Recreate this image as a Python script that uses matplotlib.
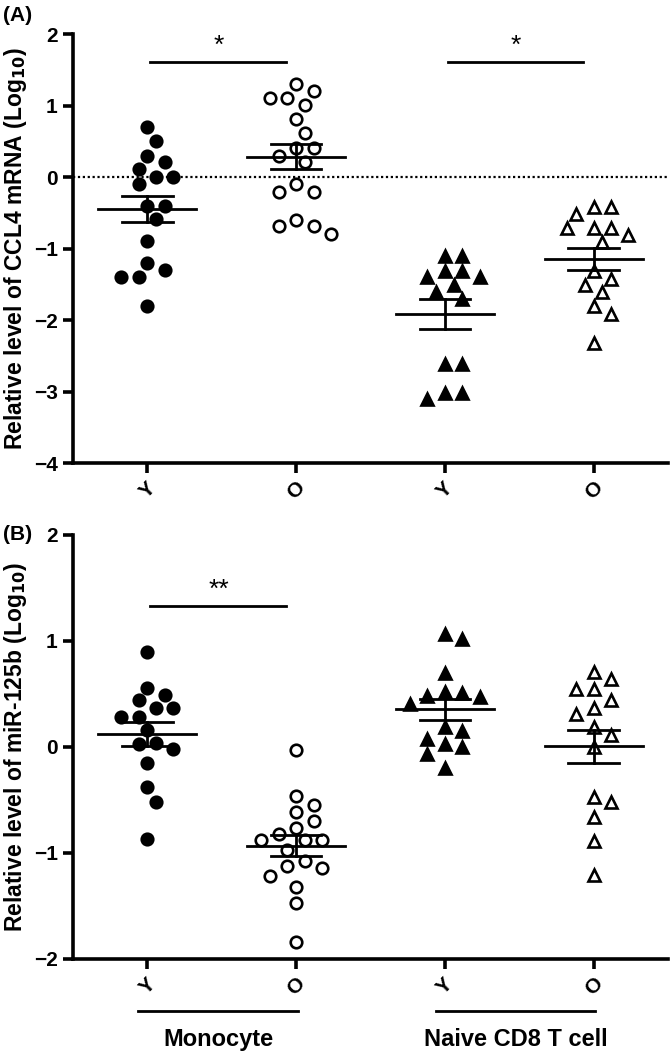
import numpy as np
import matplotlib.pyplot as plt
from matplotlib.transforms import blended_transform_factory

# DATA
tick_labels = ["Y", "O", "Y", "O"]
cell_types = ["Monocyte", "Naive CD8 T cell"]

# panel A: CCL4 mRNA, log10
ccl4_mono_y = [0.70, 0.50, 0.30, 0.21, 0.11, 0.0, 0.0, -0.10, -0.40, -0.40,
               -0.59, -0.90, -1.20, -1.30, -1.40, -1.40, -1.80]
ccl4_mono_o = [1.30, 1.21, 1.11, 1.11, 1.01, 0.81, 0.61, 0.40, 0.40, 0.30,
               0.21, -0.10, -0.21, -0.21, -0.60, -0.69, -0.69, -0.80]
ccl4_cd8_y = [-1.10, -1.10, -1.31, -1.31, -1.40, -1.40, -1.51, -1.61, -1.70,
              -2.62, -2.62, -3.02, -3.02, -3.11]
ccl4_cd8_o = [-0.42, -0.42, -0.51, -0.71, -0.71, -0.71, -0.81, -0.91, -1.32,
              -1.42, -1.51, -1.61, -1.81, -1.92, -2.32]

# panel B: miR-125b, log10
mir_mono_y = [0.90, 0.56, 0.49, 0.44, 0.37, 0.37, 0.28, 0.28, 0.16, 0.04,
              0.03, -0.02, -0.15, -0.38, -0.52, -0.87]
mir_mono_o = [-0.03, -0.46, -0.55, -0.61, -0.70, -0.76, -0.82, -0.88, -0.88,
              -0.88, -0.97, -1.08, -1.12, -1.14, -1.22, -1.32, -1.47, -1.84]
mir_cd8_y = [1.07, 1.02, 0.70, 0.52, 0.51, 0.48, 0.47, 0.41, 0.19, 0.15,
             0.08, 0.03, 0.0, -0.07, -0.20]
mir_cd8_o = [0.71, 0.64, 0.55, 0.55, 0.44, 0.37, 0.31, 0.19, 0.11, 0.0,
             -0.47, -0.52, -0.66, -0.89, -1.21]

# significance: (left group, right group, label)
sig_a = [(0, 1, "*"), (2, 3, "*")]
sig_b = [(0, 1, "**")]

# marker style per group
markers = ["o", "o", "^", "^"]
filled = [True, False, True, False]

plt.rcParams['font.family'] = ['Liberation Sans', 'DejaVu Sans']
plt.rcParams['mathtext.fontset'] = 'custom'
plt.rcParams['mathtext.rm'] = 'Liberation Sans Narrow:bold'
plt.rcParams['mathtext.bf'] = 'Liberation Sans Narrow:bold'
narrow = ['Liberation Sans Narrow', 'Liberation Sans', 'DejaVu Sans']

fig = plt.figure(figsize=(6.72, 10.55), dpi=100)
axA = fig.add_axes([0.1086, 0.5611, 0.8854, 0.4066])
axB = fig.add_axes([0.1086, 0.0910, 0.8854, 0.4019])


# simple beeswarm: spread points sideways so they don't overlap
def swarm_offsets(ax, vals, xc, step_px=8.7, min_px=15.0):
    vals = np.asarray(vals, dtype=float)
    pix = ax.transData.transform(np.column_stack([np.full(len(vals), xc), vals]))
    ypix = pix[:, 1]
    px_per_x = ax.transData.transform((1, 0))[0] - ax.transData.transform((0, 0))[0]
    offs = np.zeros(len(vals))
    placed = []
    for i in np.argsort(-vals):
        for k in [0, 1, -1, 2, -2, 3, -3, 4, -4, 5, -5]:
            x = k * step_px
            ok = True
            for (px, py) in placed:
                if np.hypot(x - px, ypix[i] - py) < min_px:
                    ok = False
                    break
            if ok:
                break
        placed.append((x, ypix[i]))
        offs[i] = x / px_per_x
    return xc + offs


def draw_panel(ax, groups, ylim, yticks, sigs, sig_y, star_y):
    ax.set_xlim(-0.5, 3.5)
    ax.set_ylim(*ylim)
    ax.set_yticks(yticks)
    ax.set_yticklabels([str(t).replace("-", "\u2212") for t in yticks],
                       fontsize=15, fontweight='bold', family=narrow)
    ax.set_xticks(range(4))
    ax.set_xticklabels(tick_labels, fontsize=15, rotation=45, fontweight='bold')
    for s in ["top", "right"]:
        ax.spines[s].set_visible(False)
    for s in ["left", "bottom"]:
        ax.spines[s].set_linewidth(2.6)
    ax.tick_params(length=7, width=2.6, pad=4)

    for i, vals in enumerate(groups):
        vals = np.asarray(vals)
        xs = swarm_offsets(ax, vals, i)
        if markers[i] == "o":
            ms = 8.3
        else:
            ms = 9.3
        ax.plot(xs, vals, linestyle='none', marker=markers[i], markersize=ms,
                markerfacecolor='black' if filled[i] else 'white',
                markeredgecolor='black', markeredgewidth=1.9, zorder=3)
        m = vals.mean()
        se = vals.std(ddof=1) / np.sqrt(len(vals))
        ax.plot([i - 0.33, i + 0.33], [m, m], color='black', lw=2, zorder=4)
        ax.plot([i - 0.17, i + 0.17], [m + se, m + se], color='black', lw=2, zorder=4)
        ax.plot([i - 0.17, i + 0.17], [m - se, m - se], color='black', lw=2, zorder=4)
        ax.plot([i, i], [m - se, m + se], color='black', lw=2, zorder=4)

    for (a, b, lab) in sigs:
        ax.plot([a + 0.02, b - 0.07], [sig_y, sig_y], color='black', lw=2)
        ax.text((a + b) / 2 - 0.02, star_y, lab, ha='center', va='center',
                fontsize=19)


draw_panel(axA, [ccl4_mono_y, ccl4_mono_o, ccl4_cd8_y, ccl4_cd8_o],
           (-4, 2), [2, 1, 0, -1, -2, -3, -4], sig_a, 1.61, 1.84)
axA.axhline(0, color='black', ls=(0, (1, 1.2)), lw=1.6, zorder=1)

draw_panel(axB, [mir_mono_y, mir_mono_o, mir_cd8_y, mir_cd8_o],
           (-2, 2), [2, 1, 0, -1, -2], sig_b, 1.33, 1.48)

axA.set_ylabel("Relative level of CCL4 mRNA (Log$_{10}$)",
               fontsize=16.5, fontweight='bold', family=narrow, va='center')
axB.set_ylabel("Relative level of miR-125b (Log$_{10}$)",
               fontsize=16.5, fontweight='bold', family=narrow, va='center')
axA.yaxis.set_label_coords(-0.097, 0.5)
axB.yaxis.set_label_coords(-0.097, 0.5)

fig.text(0.005, 0.985, "(A)", fontsize=15, fontweight='bold', va='center')
fig.text(0.005, 0.493, "(B)", fontsize=15, fontweight='bold', va='center')

# group lines and cell type names under panel B
tr = blended_transform_factory(axB.transData, axB.transAxes)
for j, name in enumerate(cell_types):
    x0 = 2 * j
    axB.plot([x0 - 0.06, x0 + 1.01], [-0.123, -0.123], color='black', lw=2,
             transform=tr, clip_on=False)
    axB.text(x0 + 0.48, -0.19, name, transform=tr, ha='center', va='center',
             fontsize=17, fontweight='bold', family=narrow)

fig.savefig("out.png", dpi=100)
